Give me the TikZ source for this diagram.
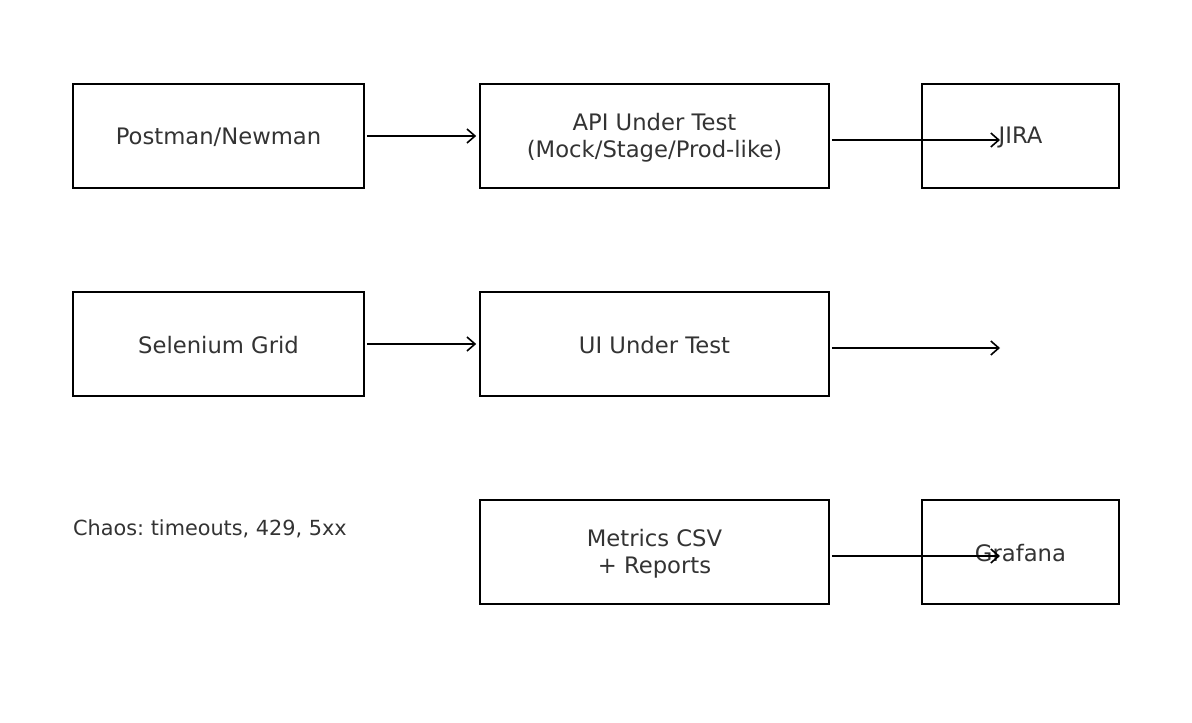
\documentclass[tikz,border=0pt]{standalone}
\usepackage{fontspec}
\setmainfont{DejaVu Sans}
\usetikzlibrary{arrows.meta}
\definecolor{txt}{HTML}{333333}
\frenchspacing
\begin{document}
\begin{tikzpicture}[x=1pt,y=-1pt,
  box/.style={draw=black,line width=1.6pt,minimum height=104pt,inner sep=0pt,text=txt,font=\fontsize{22.7}{27}\selectfont,align=center},
  lbl/.style={text=txt,font=\fontsize{22.7}{27}\selectfont,inner sep=0pt,align=center},
  conn/.style={line width=1.6pt,-{Straight Barb[length=8pt,width=14pt]}}]
\useasboundingbox (0,0) rectangle (1192,723);
\node[box,minimum width=291pt] (postman) at (218.5,136) {};
\node[lbl] (postmantext) at (218.5,137) {Postman/Newman};
\node[box,minimum width=349pt] (api) at (654.5,136) {};
\node[lbl] (apitext) at (654.5,137.5) {API Under Test\\(Mock/Stage/Prod-like)};
\node[box,minimum width=197pt] (jira) at (1020.5,136) {};
\node[lbl] (jiratext) at (1020.5,137) {JIRA};
\node[box,minimum width=291pt] (selenium) at (218.5,344) {};
\node[lbl] (seleniumtext) at (218.5,345) {Selenium Grid};
\node[box,minimum width=349pt] (ui) at (654.5,344) {};
\node[lbl] (uitext) at (654.5,345) {UI Under Test};
\node[box,minimum width=349pt] (metrics) at (654.5,552) {};
\node[lbl] (metricstext) at (654.5,553.5) {Metrics CSV\\+ Reports};
\node[box,minimum width=197pt] (grafana) at (1020.5,552) {};
\node[lbl] (grafanatext) at (1020.5,553) {Grafana};
\node[text=txt,font=\fontsize{20.8}{25}\selectfont,inner sep=0pt,anchor=west] (chaos) at (73,529) {Chaos: timeouts, 429, 5xx};
\coordinate (jiraend) at (1000,140);
\coordinate (uiend) at (1000,348);
\coordinate (grafanaend) at (1000,556);
\draw[conn] ([xshift=2pt]postman.east) -- ([xshift=-3pt]api.west);
\draw[conn] ([xshift=2pt]selenium.east) -- ([xshift=-3pt]ui.west);
\draw[conn] ([xshift=2pt,yshift=-4pt]api.east) -- (jiraend);
\draw[conn] ([xshift=2pt,yshift=-4pt]ui.east) -- (uiend);
\draw[conn] ([xshift=2pt,yshift=-4pt]metrics.east) -- (grafanaend);
\end{tikzpicture}
\end{document}
